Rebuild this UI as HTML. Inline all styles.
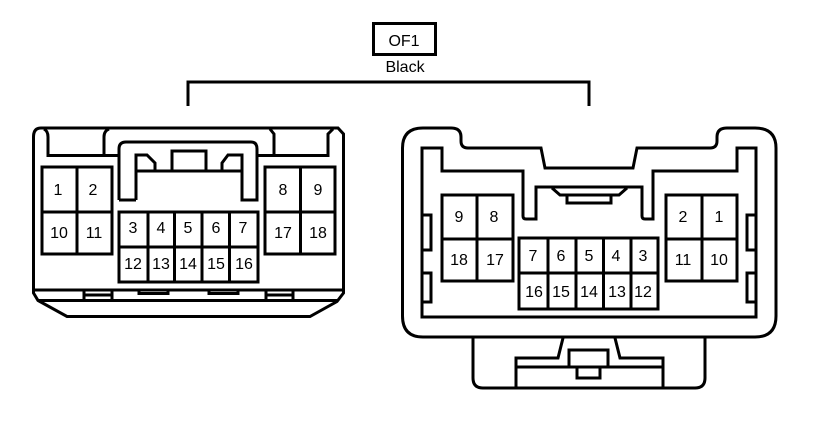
<!DOCTYPE html>
<html><head><meta charset="utf-8"><style>
html,body{margin:0;padding:0;background:#fff;width:816px;height:426px;overflow:hidden}
svg{display:block}
path,rect,line{fill:none;stroke:#000;stroke-width:3}
text{font-family:"Liberation Sans",sans-serif;font-size:16px;fill:#000;text-anchor:middle}
</style></head><body>
<svg width="816" height="426" viewBox="0 0 816 426" xmlns="http://www.w3.org/2000/svg">
<rect x="373.500" y="23.500" width="62" height="31"/>
<text x="404" y="46">OF1</text>
<text x="405" y="72">Black</text>
<path d="M188 106V82H589V106"/>

<!-- left connector -->
<path d="M33.500 137Q33.500 128 41 128H338L343.500 134V293L337 301.500L310 316.500H67L38 300.500L33.500 293Z"/>
<path d="M33.500 290H343.500M38 300.500H337"/>
<path d="M84 290V300M112 290V300M84 295H112M266 290V300M293 290V300M266 295H293"/>
<path d="M139 290V293.500H168V290M209 290V293.500H238V290"/>
<path d="M44 129Q48 131 48 137V155.500H119M104 155.500V137Q104 131 109 129M270 129L274 134V155.500M258 155.500H328V134L333 129"/>
<path d="M119 200V149Q119 142 126 142H251Q257 142 257 149V200H242V155H228L222 163V171M136 171H242M136 200H119M136 200V155H147L155 163V171M172 171V151H206V171"/>
<rect x="42" y="167" width="70" height="87"/>
<path d="M77 167V254M42 212H112"/>
<rect x="265" y="167" width="70" height="87"/>
<path d="M300.500 167V254M265 212H335"/>
<rect x="119" y="212" width="139" height="70"/>
<path d="M119 247H258M148 212V282M174.500 212V282M202 212V282M229.500 212V282"/>
<text x="58" y="195">1</text><text x="93" y="195">2</text>
<text x="59" y="238">10</text><text x="94" y="238">11</text>
<text x="133" y="233">3</text><text x="161" y="233">4</text><text x="188" y="233">5</text><text x="216" y="233">6</text><text x="243" y="233">7</text>
<text x="133" y="269">12</text><text x="161" y="269">13</text><text x="188" y="269">14</text><text x="216" y="269">15</text><text x="244" y="269">16</text>
<text x="283" y="195">8</text><text x="318" y="195">9</text>
<text x="283" y="238">17</text><text x="318" y="238">18</text>

<!-- right connector -->
<path d="M402.500 148Q402.500 128 423 128H451Q461 128 461 137V141Q461 148 468 148H541L545 168H633L637 148H710Q717 148 717 141V137Q717 128 727 128H755Q776 128 776 148V316Q776 337 755 337H423Q402.500 337 402.500 316Z"/>
<path d="M422 148H442V171H523V216Q523 219 526 219H536V187H642V216Q642 219 645 219H653V171H737V148H756V317H422Z"/>
<path d="M552 188L560 195H619L627 188M567 195V203H611V195"/>
<path d="M422 215H431V250H422M422 273H431V302H422M756 215H747V250H756M756 273H747V302H756"/>
<rect x="442" y="195" width="71" height="86"/>
<path d="M477 195V281M442 239H513"/>
<rect x="666" y="195" width="71" height="86"/>
<path d="M702 195V281M666 239H737"/>
<rect x="519" y="238" width="139" height="71"/>
<path d="M519 273H658M548 238V309M576 238V309M603.500 238V309M631 238V309"/>
<text x="459" y="222">9</text><text x="494" y="222">8</text>
<text x="459" y="265">18</text><text x="495" y="265">17</text>
<text x="533" y="261">7</text><text x="561" y="261">6</text><text x="589" y="261">5</text><text x="616" y="261">4</text><text x="643" y="261">3</text>
<text x="534" y="297">16</text><text x="561" y="297">15</text><text x="589" y="297">14</text><text x="617" y="297">13</text><text x="643" y="297">12</text>
<text x="683" y="222">2</text><text x="719" y="222">1</text>
<text x="683" y="265">11</text><text x="719" y="265">10</text>

<path d="M473 337V378Q473 388 483 388H695Q705 388 705 378V337"/>
<path d="M516 388V358H558L563 338M663 388V358H620L615 338M516 367H569M608 367H663"/>
<path d="M569 367V350H608V367H569M577 367V378H600V367"/>
</svg>
</body></html>
